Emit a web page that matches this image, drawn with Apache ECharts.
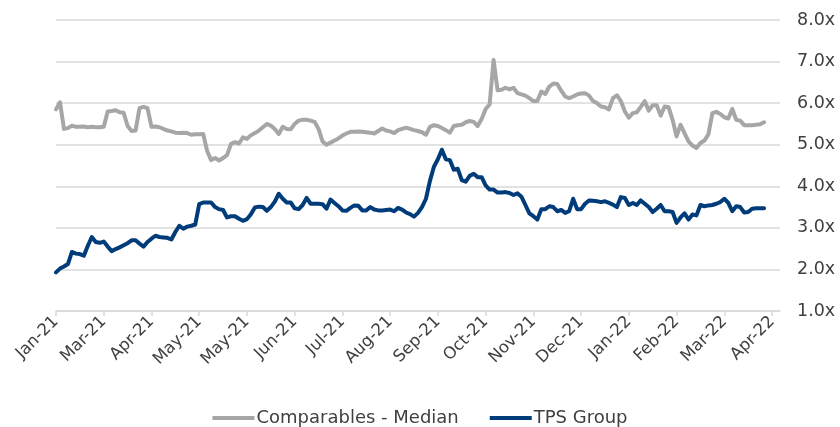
<!DOCTYPE html>
<html>
<head>
<meta charset="utf-8">
<script src="https://cdn.jsdelivr.net/npm/echarts@6/dist/echarts.min.js"></script>
<style>
  html, body { margin: 0; padding: 0; background: #ffffff; }
  #chart { width: 840px; height: 427px; }
</style>
</head>
<body>
<div id="chart"></div>
<script>
// Tick labels along the date axis (one every 12 sampled points)
const tickLabels = ['Jan-21','Mar-21','Apr-21','May-21','May-21','Jun-21','Jul-21','Aug-21',
                    'Sep-21','Oct-21','Nov-21','Dec-21','Jan-22','Feb-22','Mar-22','Apr-22'];
const pointsPerTick = 12;
const axisEnd = 182;

const seriesNames = ['Comparables - Median', 'TPS Group'];

// Comparables - Median (EV/EBITDA multiple, x)
const comparablesMedian = [
  5.85,6.02,5.38,5.40,5.46,5.43,5.43,5.44,5.42,5.43,5.42,5.42,5.43,5.80,5.81,5.83,5.78,5.77,5.45,5.33,
  5.34,5.88,5.91,5.88,5.43,5.44,5.42,5.38,5.34,5.32,5.29,5.28,5.29,5.28,5.24,5.25,5.25,5.26,4.85,4.63,
  4.68,4.62,4.68,4.75,5.02,5.06,5.03,5.18,5.14,5.23,5.28,5.34,5.42,5.50,5.46,5.38,5.26,5.43,5.38,5.37,
  5.50,5.58,5.60,5.60,5.58,5.55,5.38,5.08,5.00,5.05,5.10,5.15,5.22,5.27,5.31,5.31,5.32,5.31,5.30,5.29,
  5.27,5.33,5.39,5.34,5.32,5.28,5.35,5.38,5.41,5.38,5.35,5.33,5.30,5.24,5.43,5.47,5.45,5.40,5.35,5.29,
  5.45,5.47,5.48,5.54,5.57,5.55,5.45,5.62,5.86,5.97,7.04,6.31,6.32,6.37,6.33,6.37,6.24,6.21,6.18,6.12,
  6.05,6.05,6.28,6.22,6.40,6.47,6.46,6.30,6.16,6.12,6.16,6.21,6.23,6.24,6.18,6.05,6.00,5.92,5.90,5.85,
  6.12,6.19,6.05,5.80,5.65,5.76,5.78,5.91,6.05,5.82,5.95,5.95,5.70,5.92,5.90,5.60,5.20,5.48,5.28,5.08,
  4.98,4.92,5.04,5.10,5.25,5.76,5.79,5.74,5.66,5.63,5.86,5.60,5.58,5.47,5.47,5.47,5.48,5.49,5.54
];

// TPS Group (EV/EBITDA multiple, x)
const tpsGroup = [
  1.93,2.02,2.07,2.13,2.42,2.38,2.37,2.33,2.57,2.78,2.66,2.64,2.67,2.55,2.44,2.49,2.53,2.58,2.63,2.70,
  2.70,2.62,2.55,2.66,2.74,2.81,2.78,2.77,2.76,2.72,2.90,3.05,2.98,3.03,3.05,3.08,3.57,3.61,3.61,3.61,
  3.50,3.45,3.43,3.25,3.28,3.28,3.22,3.17,3.21,3.33,3.49,3.51,3.50,3.41,3.50,3.63,3.82,3.70,3.61,3.61,
  3.47,3.45,3.55,3.72,3.58,3.58,3.58,3.57,3.46,3.68,3.60,3.52,3.42,3.41,3.48,3.54,3.53,3.42,3.42,3.50,
  3.44,3.42,3.42,3.43,3.44,3.40,3.48,3.44,3.37,3.33,3.27,3.36,3.50,3.70,4.13,4.47,4.65,4.88,4.65,4.63,
  4.40,4.42,4.15,4.11,4.25,4.30,4.22,4.22,4.02,3.92,3.92,3.85,3.85,3.86,3.84,3.79,3.83,3.75,3.55,3.35,
  3.28,3.20,3.45,3.45,3.52,3.50,3.40,3.43,3.36,3.40,3.70,3.45,3.45,3.58,3.66,3.65,3.64,3.62,3.64,3.60,
  3.56,3.50,3.74,3.72,3.55,3.60,3.55,3.66,3.58,3.50,3.38,3.46,3.55,3.40,3.40,3.38,3.12,3.25,3.35,3.20,
  3.32,3.30,3.55,3.52,3.54,3.55,3.58,3.62,3.70,3.60,3.40,3.52,3.50,3.37,3.38,3.46,3.47,3.47,3.47
];

const tickValues = tickLabels.map((_, k) => k * pointsPerTick);
const toPairs = arr => arr.map((v, i) => [i, v]);

const chart = echarts.init(document.getElementById('chart'), null, { renderer: 'canvas' });
chart.setOption({
  animation: false,
  backgroundColor: '#ffffff',
  textStyle: { fontFamily: 'DejaVu Sans' },
  grid: { left: 56, right: 60, top: 20, bottom: 116, containLabel: false },
  legend: {
    data: seriesNames,
    left: 'center',
    top: 404,
    icon: 'rect',
    itemWidth: 42,
    itemHeight: 4,
    itemGap: 31,
    textStyle: { fontSize: 18, color: '#404040', fontFamily: 'DejaVu Sans', padding: [0, 0, 0, -3] }
  },
  xAxis: {
    type: 'value',
    min: 0,
    max: axisEnd,
    axisLine: { show: true, lineStyle: { color: '#D9D9D9', width: 1.5 } },
    axisTick: { show: true, length: 5, lineStyle: { color: '#D9D9D9', width: 1.5 }, customValues: tickValues },
    splitLine: { show: false },
    axisLabel: {
      customValues: tickValues,
      rotate: 45,
      margin: 8,
      fontSize: 16.5,
      color: '#404040',
      fontFamily: 'DejaVu Sans',
      formatter: v => tickLabels[Math.round(v / pointsPerTick)] || ''
    }
  },
  yAxis: {
    type: 'value',
    position: 'right',
    min: 1,
    max: 8,
    interval: 1,
    axisLine: { show: false },
    axisTick: { show: false },
    splitLine: { show: true, lineStyle: { color: '#D9D9D9', width: 1.5 } },
    axisLabel: {
      margin: 17,
      fontSize: 17.5,
      color: '#404040',
      fontFamily: 'DejaVu Sans',
      formatter: v => v.toFixed(1) + 'x'
    }
  },
  series: [
    {
      name: seriesNames[0],
      type: 'line',
      data: toPairs(comparablesMedian),
      showSymbol: false,
      symbol: 'none',
      color: '#A6A6A6',
      lineStyle: { color: '#A6A6A6', width: 4, join: 'round', cap: 'round' }
    },
    {
      name: seriesNames[1],
      type: 'line',
      data: toPairs(tpsGroup),
      showSymbol: false,
      symbol: 'none',
      color: '#003B7A',
      lineStyle: { color: '#003B7A', width: 4, join: 'round', cap: 'round' }
    }
  ]
});
</script>
</body>
</html>
